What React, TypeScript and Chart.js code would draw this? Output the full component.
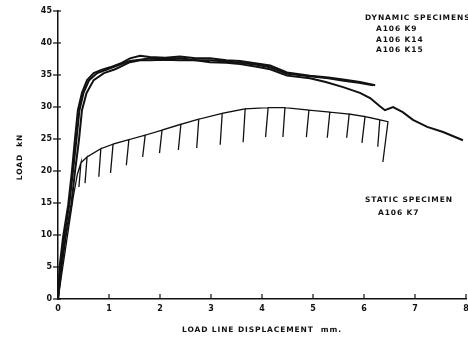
import React, { useEffect, useRef } from "react";
import { Chart, registerables } from "chart.js";

Chart.register(...registerables);

// ---- Data ----
const xTicks = [0, 1, 2, 3, 4, 5, 6, 7, 8];
const yTicks = [0, 5, 10, 15, 20, 25, 30, 35, 40, 45];

const k9X = [0, 0.03, 0.1, 0.2, 0.27, 0.33, 0.39, 0.47, 0.57, 0.7, 0.85, 1.02, 1.25, 1.41, 1.61, 1.8, 2.1, 2.39, 2.7, 2.98, 3.3, 3.57, 3.9, 4.16, 4.49, 4.94, 5.3, 5.59, 5.92, 6.22];
const k9Y = [0, 5, 9.7, 14.7, 19.7, 24.8, 29.5, 32.2, 34.2, 35.3, 35.8, 36.2, 36.9, 37.6, 38.0, 37.8, 37.7, 37.9, 37.6, 37.6, 37.3, 37.2, 36.8, 36.5, 35.4, 34.9, 34.6, 34.3, 33.9, 33.4];

const k14X = [0, 0.05, 0.12, 0.22, 0.29, 0.36, 0.42, 0.5, 0.61, 0.77, 0.97, 1.2, 1.41, 1.61, 1.8, 2.1, 2.39, 2.7, 2.98, 3.3, 3.57, 3.9, 4.16, 4.49, 4.94, 5.3, 5.6, 5.9, 6.18];
const k14Y = [0, 5, 9.7, 14.7, 19.7, 24.8, 29.5, 32.2, 34.2, 35.3, 35.9, 36.6, 37.2, 37.4, 37.6, 37.5, 37.6, 37.3, 37.3, 37.1, 36.9, 36.6, 36.2, 35.2, 34.8, 34.5, 34.1, 33.8, 33.4];

const k15X = [0, 0.07, 0.15, 0.26, 0.33, 0.41, 0.47, 0.56, 0.7, 0.9, 1.12, 1.41, 1.61, 1.8, 2.1, 2.39, 2.7, 2.98, 3.3, 3.57, 3.9, 4.16, 4.49, 4.94, 5.25, 5.59, 5.92, 6.12, 6.3, 6.41, 6.57, 6.76, 6.96, 7.24, 7.55, 7.94];
const k15Y = [0, 5, 9.7, 14.7, 19.7, 24.8, 29.5, 32.2, 34.2, 35.3, 35.9, 37.0, 37.3, 37.3, 37.4, 37.3, 37.3, 37.0, 36.9, 36.7, 36.3, 35.9, 34.9, 34.5, 33.9, 33.1, 32.2, 31.4, 30.2, 29.5, 30.0, 29.2, 28.0, 26.9, 26.1, 24.8];

// static specimen K7: elastic start, then unloading drops
const k7StartX = [0, 0.3, 0.38];
const k7StartY = [0, 16, 19.5];
const k7DropX = [0.45, 0.57, 0.84, 1.08, 1.39, 1.71, 2.04, 2.41, 2.76, 3.22, 3.67, 4.12, 4.45, 4.92, 5.33, 5.71, 6.02, 6.31, 6.47];
const k7Top = [21.3, 22.2, 23.5, 24.2, 24.9, 25.6, 26.4, 27.3, 28.1, 29.0, 29.7, 29.9, 29.9, 29.5, 29.2, 28.9, 28.5, 28.0, 27.7];
const k7BottomX = [0.41, 0.53, 0.8, 1.03, 1.34, 1.66, 1.99, 2.36, 2.72, 3.18, 3.63, 4.07, 4.41, 4.87, 5.28, 5.66, 5.96, 6.27, 6.37];
const k7Bottom = [17.5, 18.1, 19.1, 19.7, 20.9, 22.2, 22.8, 23.3, 23.6, 24.1, 24.5, 25.3, 25.3, 25.3, 25.2, 25.2, 24.4, 23.8, 21.4];

const dynLabels = ["DYNAMIC SPECIMENS", "A106 K9", "A106 K14", "A106 K15"];
const staticLabels = ["STATIC SPECIMEN", "A106 K7"];
const xTitle = "LOAD LINE DISPLACEMENT  mm.";
const yTitle = "LOAD  kN";

const INK = "#111111";
const FONT = '"DejaVu Sans", sans-serif';

function pts(xs: number[], ys: number[]) {
  return xs.map((x, i) => ({ x, y: ys[i] }));
}

function staticPoints() {
  const out = pts(k7StartX, k7StartY);
  k7DropX.forEach((x, i) => {
    out.push({ x, y: k7Top[i] });
    out.push({ x: k7BottomX[i], y: k7Bottom[i] });
    if (i < k7DropX.length - 1) out.push({ x, y: k7Top[i] });
  });
  return out;
}

const textPlugin = {
  id: "texts",
  afterDraw(chart: any) {
    const ctx = chart.ctx as CanvasRenderingContext2D;
    const xs = chart.scales.x;
    const ys = chart.scales.y;
    ctx.save();
    ctx.strokeStyle = INK;
    ctx.lineWidth = 1.2;
    // inward x ticks
    xTicks.forEach((v) => {
      const px = xs.getPixelForValue(v);
      ctx.beginPath();
      ctx.moveTo(px, ys.bottom);
      ctx.lineTo(px, ys.bottom - 5);
      ctx.stroke();
    });
    // y ticks crossing axis
    yTicks.forEach((v) => {
      const py = ys.getPixelForValue(v);
      ctx.beginPath();
      ctx.moveTo(xs.left - 5, py);
      ctx.lineTo(xs.left + 3, py);
      ctx.stroke();
    });

    ctx.fillStyle = INK;
    ctx.font = `bold 7.5px ${FONT}`;
    (ctx as any).letterSpacing = "0.9px";
    ctx.textBaseline = "middle";
    ctx.textAlign = "left";
    const dynPos = [
      [365, 18],
      [376, 29.5],
      [376, 40],
      [376, 50.5],
    ];
    dynLabels.forEach((t, i) => ctx.fillText(t, dynPos[i][0], dynPos[i][1]));
    const stPos = [
      [365, 200],
      [378, 213.5],
    ];
    staticLabels.forEach((t, i) => ctx.fillText(t, stPos[i][0], stPos[i][1]));

    // axis titles
    ctx.fillText(xTitle, 182, 330);
    ctx.save();
    ctx.translate(20, 157);
    ctx.rotate(-Math.PI / 2);
    ctx.textAlign = "center";
    ctx.fillText(yTitle, 0, 0);
    ctx.restore();
    ctx.restore();
  },
};

export default function App() {
  const ref = useRef<HTMLCanvasElement | null>(null);
  useEffect(() => {
    if (!ref.current) return;
    const lineDs = (label: string, data: any[], w: number) => ({
      label,
      data,
      showLine: true,
      borderColor: INK,
      backgroundColor: INK,
      borderWidth: w,
      pointRadius: 0,
      tension: 0,
      fill: false,
    });
    const chart = new Chart(ref.current, {
      type: "scatter",
      data: {
        datasets: [
          lineDs("A106 K9", pts(k9X, k9Y), 2),
          lineDs("A106 K14", pts(k14X, k14Y), 2),
          lineDs("A106 K15", pts(k15X, k15Y), 2),
          lineDs("A106 K7", staticPoints(), 1.3),
        ],
      },
      options: {
        animation: false,
        responsive: false,
        devicePixelRatio: 1,
        layout: { padding: { left: 0, right: 2, top: 11, bottom: 0 } },
        plugins: {
          legend: { display: false },
          tooltip: { enabled: false },
          title: { display: false },
        },
        scales: {
          x: {
            type: "linear",
            min: 0,
            max: 8,
            afterFit: (s: any) => {
              s.height = 41;
              s.paddingLeft = 0;
              s.paddingRight = 0;
            },
            afterBuildTicks: (s: any) => {
              s.ticks = xTicks.map((v) => ({ value: v }));
            },
            grid: { display: false, drawTicks: false },
            border: { display: true, color: INK, width: 1.5 },
            ticks: {
              color: INK,
              padding: 5,
              maxRotation: 0,
              autoSkip: false,
              font: { family: FONT, size: 8, weight: "bold" },
            },
          },
          y: {
            type: "linear",
            min: 0,
            max: 45,
            afterFit: (s: any) => {
              s.width = 58;
              s.paddingTop = 0;
              s.paddingBottom = 0;
            },
            afterBuildTicks: (s: any) => {
              s.ticks = yTicks.map((v) => ({ value: v }));
            },
            grid: { display: false, drawTicks: false },
            border: { display: true, color: INK, width: 1.5 },
            ticks: {
              color: INK,
              padding: 6,
              autoSkip: false,
              font: { family: FONT, size: 8, weight: "bold" },
            },
          },
        },
      },
      plugins: [textPlugin],
    });
    return () => chart.destroy();
  }, []);
  return (
    <div style={{ position: "fixed", left: 0, top: 0, width: 468, height: 340, background: "#fff" }}>
      <canvas ref={ref} width={468} height={340} style={{ width: 468, height: 340, display: "block" }} />
    </div>
  );
}
